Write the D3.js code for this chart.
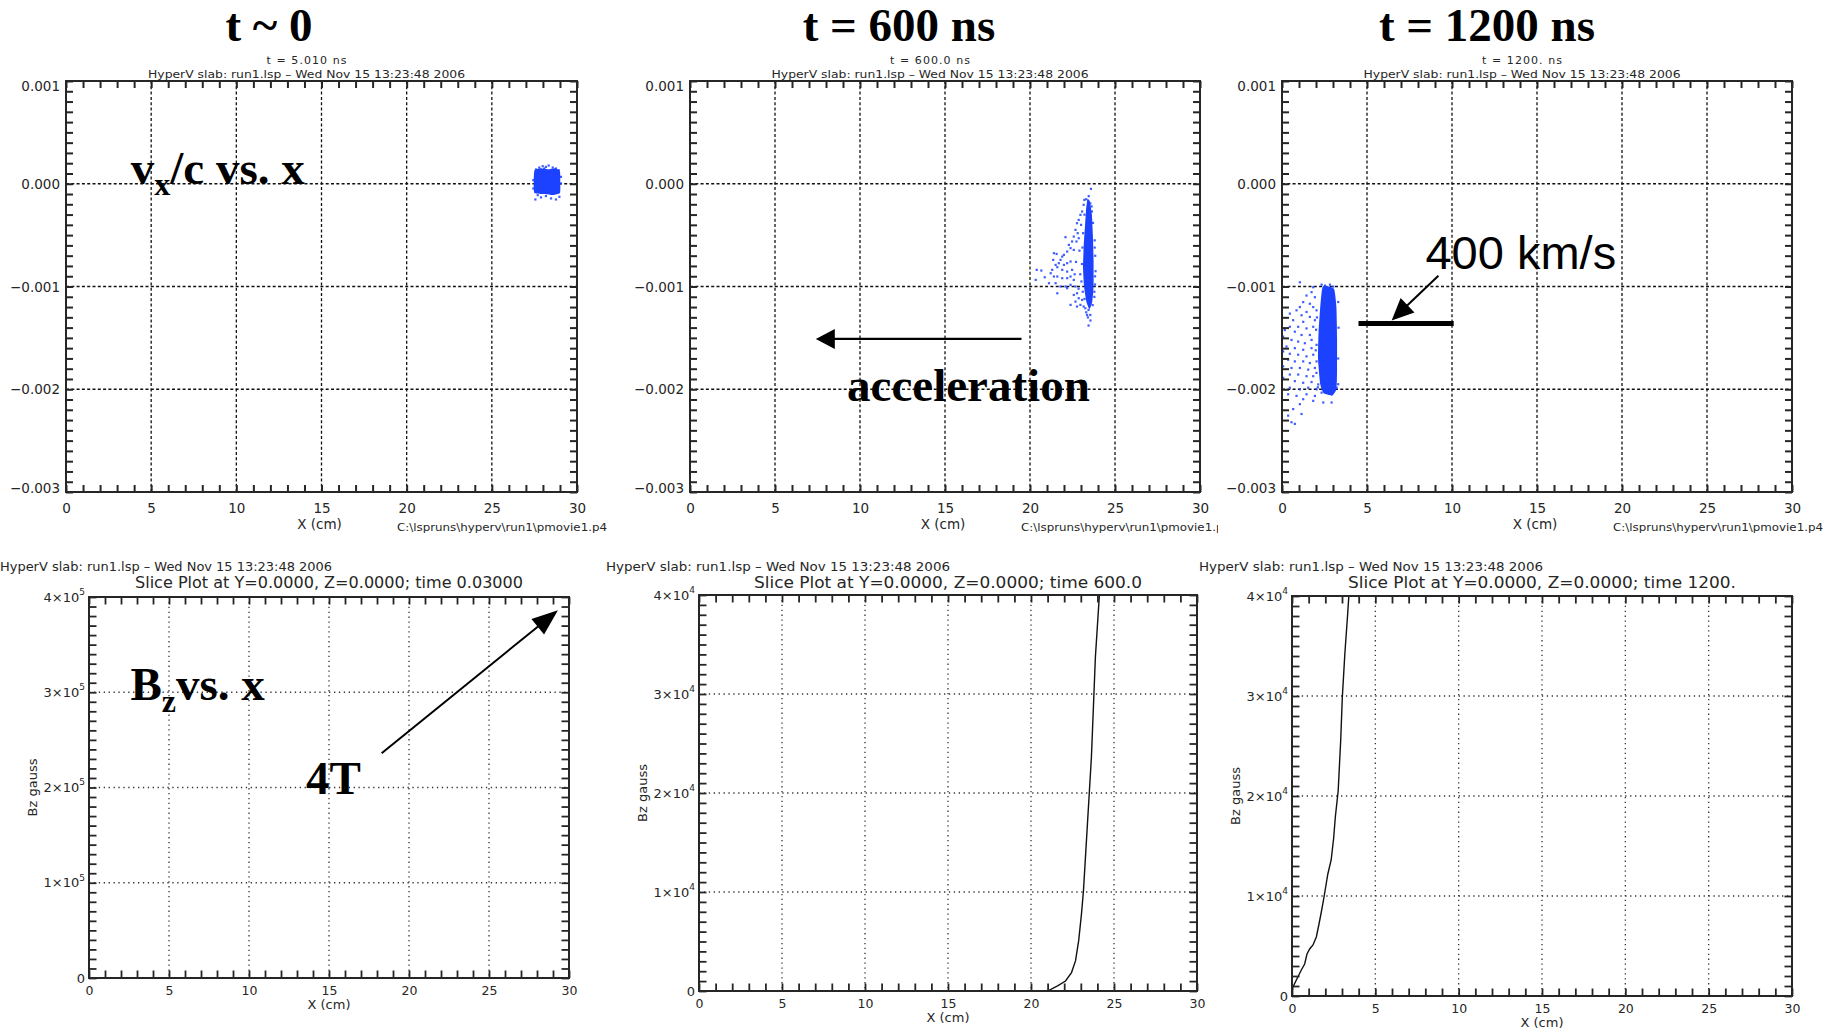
<!DOCTYPE html>
<html>
<head>
<meta charset="utf-8">
<script src="https://cdn.jsdelivr.net/npm/d3@7"></script>
<style>
  html, body { margin: 0; padding: 0; background: #fff; }
  svg { display: block; }
</style>
</head>
<body>
<svg id="fig" width="1834" height="1032"></svg>
<script>
// ------------------------------------------------------------------
// Data: particle phase space (vx/c vs x) and Bz slices at three times
// x in cm, velocities in units of 1e-3 c, Bz in kG (1e3 gauss)
// ------------------------------------------------------------------
const panelTitles = ["t ~ 0", "t = 600 ns", "t = 1200 ns"];
const runTimes = ["t = 5.010 ns", "t = 600.0 ns", "t = 1200. ns"];
const runStamp = "HyperV slab: run1.lsp \u2013 Wed Nov 15 13:23:48 2006";
const runPath = "C:\\lspruns\\hyperv\\run1\\pmovie1.p4";
const sliceTitles = [
  "Slice Plot at Y=0.0000, Z=0.0000; time 0.03000",
  "Slice Plot at Y=0.0000, Z=0.0000; time 600.0",
  "Slice Plot at Y=0.0000, Z=0.0000; time 1200."
];

const xTicks = [0, 5, 10, 15, 20, 25, 30];
const xGrid = [5, 10, 15, 20, 25];
const vTicks = [1, 0, -1, -2, -3];                 // x 1e-3
const vTickLabels = ["0.001", "0.000", "\u22120.001", "\u22120.002", "\u22120.003"];
const vGrid = [0, -1, -2];
const bzTicks = [0, 1, 2, 3, 4];
const bzExponents = ["5", "4", "4"];               // 10^n per Bz panel
const bzGrid = [1, 2, 3];

// dense cores of the particle bunches (outline, cm / 1e-3 c)
const core0 = [[27.50, 0.13], [27.85, 0.15], [28.30, 0.14], [28.70, 0.15], [29.00, 0.12],
               [29.02, 0.00], [29.00, -0.09], [28.60, -0.11], [28.10, -0.10], [27.50, -0.09], [27.46, 0.02]];
const core600 = [[23.38, -0.15], [23.52, -0.17], [23.64, -0.30], [23.70, -0.50], [23.74, -0.75],
                 [23.74, -1.00], [23.66, -1.15], [23.50, -1.22], [23.32, -1.15], [23.18, -1.00],
                 [23.12, -0.82], [23.16, -0.60], [23.24, -0.40], [23.30, -0.25]];
const core1200 = [[2.40, -1.00], [3.05, -1.02], [3.20, -1.20], [3.24, -1.50], [3.24, -1.80],
                  [3.20, -2.00], [2.95, -2.06], [2.45, -2.04], [2.25, -1.95], [2.12, -1.70],
                  [2.15, -1.45], [2.25, -1.20]];

// individual particles around the cores (cm / 1e-3 c)
const pts0 = [[27.59, 0.140], [27.78, 0.159], [27.98, 0.172], [28.17, 0.165], [28.33, 0.178],
              [28.57, 0.159], [28.76, 0.149], [28.92, 0.133], [27.69, -0.110], [27.88, -0.132],
              [28.17, -0.119], [28.47, -0.142], [28.76, -0.152], [28.96, -0.126], [27.55, -0.152],
              [28.08, 0.149], [27.43, 0.036], [29.05, 0.004], [27.43, -0.045], [29.05, 0.068]];
const pts600 = [[23.58, -0.049], [23.19, -0.156], [23.44, -0.188], [23.54, -0.190], [23.15, -0.204],
                [23.35, -0.253], [23.06, -0.269], [23.64, -0.269], [22.96, -0.302], [22.86, -0.351],
                [22.76, -0.383], [23.00, -0.399], [22.67, -0.448], [22.80, -0.480], [22.57, -0.513],
                [22.86, -0.529], [22.47, -0.561], [22.73, -0.561], [22.08, -0.519], [22.28, -0.594],
                [22.38, -0.626], [22.57, -0.643], [22.18, -0.659], [21.99, -0.691], [21.89, -0.708],
                [21.40, -0.675], [21.56, -0.682], [21.79, -0.740], [21.36, -0.740], [21.69, -0.772],
                [21.99, -0.789], [22.18, -0.772], [22.38, -0.756], [21.50, -0.789], [21.60, -0.811],
                [21.30, -0.837], [21.89, -0.837], [22.18, -0.854], [22.47, -0.837], [20.39, -0.837],
                [20.66, -0.844], [20.86, -0.909], [20.33, -0.935], [21.21, -0.870], [21.40, -0.902],
                [21.60, -0.902], [21.89, -0.918], [22.18, -0.918], [22.38, -0.902], [22.57, -0.935],
                [21.11, -0.967], [21.50, -0.967], [21.79, -0.999], [22.08, -0.999], [22.38, -0.983],
                [22.67, -0.999], [21.60, -1.065], [22.18, -1.016], [22.57, -1.081], [22.76, -1.065],
                [22.86, -1.113], [23.06, -1.130], [22.38, -1.178], [22.67, -1.146], [22.96, -1.178],
                [23.15, -1.194], [23.25, -1.211], [23.44, -1.227], [22.76, -1.194], [23.35, -1.276],
                [23.54, -1.276], [23.44, -1.379], [22.90, -0.650], [22.95, -0.880], [22.70, -0.760],
                [22.62, -0.880], [22.85, -1.020], [23.80, -0.620], [23.82, -0.900], [23.78, -1.050],
                [23.30, -0.150], [23.45, -0.120], [23.62, -0.220], [23.20, -0.300], [23.70, -0.380],
                [23.12, -0.480], [23.80, -0.550], [23.08, -0.620], [23.83, -0.700], [23.05, -0.780],
                [23.85, -0.850], [23.02, -0.950], [23.82, -0.980], [23.10, -1.050], [23.78, -1.100],
                [23.20, -1.120], [23.68, -1.180], [23.40, -1.300], [23.55, -1.330], [23.30, -1.250]];
const pts1200 = [[1.044, -0.958], [1.831, -1.006], [2.323, -0.981], [2.519, -0.990], [2.814, -0.981],
                 [3.011, -1.000], [1.733, -1.054], [1.437, -1.087], [1.929, -1.103], [1.241, -1.151],
                 [1.634, -1.167], [1.044, -1.199], [1.831, -1.199], [0.847, -1.231], [1.437, -1.247],
                 [2.027, -1.231], [0.454, -1.263], [1.143, -1.279], [1.634, -1.295], [0.651, -1.327],
                 [1.241, -1.343], [1.929, -1.327], [0.454, -1.391], [0.946, -1.391], [1.437, -1.407],
                 [1.831, -1.391], [0.159, -1.423], [0.749, -1.439], [1.143, -1.471], [1.634, -1.471],
                 [0.061, -1.487], [0.553, -1.519], [0.946, -1.535], [1.339, -1.551], [1.733, -1.519],
                 [0.258, -1.583], [0.749, -1.599], [1.241, -1.615], [1.733, -1.599], [2.027, -1.567],
                 [0.061, -1.631], [0.454, -1.654], [0.946, -1.663], [1.437, -1.679], [1.831, -1.663],
                 [0.356, -1.712], [0.749, -1.728], [1.241, -1.728], [1.634, -1.744], [2.027, -1.728],
                 [0.061, -1.776], [0.553, -1.792], [1.044, -1.792], [1.536, -1.808], [1.929, -1.792],
                 [0.454, -1.856], [0.946, -1.856], [1.437, -1.872], [1.831, -1.872], [0.061, -1.888],
                 [0.749, -1.920], [1.241, -1.936], [1.733, -1.929], [2.126, -1.952], [0.454, -1.984],
                 [1.044, -2.000], [1.536, -1.984], [2.027, -2.000], [2.716, -2.000], [3.207, -1.984],
                 [0.356, -2.048], [0.847, -2.064], [1.437, -2.048], [1.929, -2.064], [2.323, -2.032],
                 [2.913, -2.048], [1.241, -2.096], [1.831, -2.112], [1.044, -2.144], [2.421, -2.128],
                 [2.913, -2.128], [0.651, -2.192], [0.356, -2.256], [1.143, -2.240], [0.553, -2.320],
                 [0.749, -2.336], [2.050, -1.300], [2.000, -1.420], [1.980, -1.620], [2.020, -1.840],
                 [2.100, -1.980], [3.300, -1.150], [3.320, -1.400], [3.300, -1.700], [3.300, -1.950]];

// Bz slices (cm / kG); the t ~ 0 slice has no trace inside its window
const bz0 = [];
const bz600 = [[20.40, 0], [21.00, 0], [21.60, 0.51], [22.08, 1.01], [22.44, 1.86], [22.68, 3.04],
               [22.87, 5.06], [23.04, 7.76], [23.16, 10.13], [23.28, 13.50], [23.40, 16.88],
               [23.52, 20.25], [23.64, 23.63], [23.76, 28.69], [23.88, 33.76], [24.12, 40.0]];
const bz1200 = [[0.02, 0.6], [0.06, 0.9], [0.26, 1.6], [0.56, 2.6], [0.76, 3.2], [0.90, 4.2],
                [1.06, 4.7], [1.26, 5.1], [1.46, 5.9], [1.62, 7.2], [1.76, 8.4], [1.90, 9.7],
                [2.02, 10.9], [2.15, 12.2], [2.35, 13.6], [2.50, 15.8], [2.60, 17.9], [2.77, 20.5],
                [2.92, 25.5], [3.02, 29.9], [3.17, 34.2], [3.34, 38.2], [3.41, 40.0]];

const cores = [core0, core600, core1200];
const particles = [pts0, pts600, pts1200];
const bzSlices = [bz0, bz600, bz1200];

// ------------------------------------------------------------------
// Layout and styles
// ------------------------------------------------------------------
const INK = "#262626";
const BLUE = "#1c42ff";
const LABEL_FONT = "'DejaVu Sans', sans-serif";
const SERIF = "'Liberation Serif', 'Times New Roman', serif";
const SANS = "'Liberation Sans', Arial, sans-serif";

const topGeom = [
  { x0: 66, x1: 577, titleX: 269 },
  { x0: 690, x1: 1200, titleX: 899 },
  { x0: 1282, x1: 1792, titleX: 1487 }
];
const TOP_Y0 = 81, TOP_Y1 = 492;
const botGeom = [
  { x0: 89, x1: 569, y0: 597, y1: 978, bzMax: 4e5, stampX: 0, stampW: 332 },
  { x0: 699, x1: 1197, y0: 595, y1: 991, bzMax: 4e4, stampX: 606, stampW: 344 },
  { x0: 1292, x1: 1792, y0: 596, y1: 996, bzMax: 4e4, stampX: 1199, stampW: 344 }
];

const svg = d3.select("#fig");
const defs = svg.append("defs");

function inwardTicks(g, axis, translate, values, len, width) {
  const a = g.append("g").attr("transform", translate)
    .call(axis.tickValues(values).tickSize(-len).tickSizeOuter(0).tickFormat(""));
  a.select(".domain").remove();
  a.selectAll(".tick line").attr("stroke", INK).attr("stroke-width", width);
  return a;
}

function styleLabels(a, size) {
  a.select(".domain").remove();
  a.attr("font-family", LABEL_FONT).attr("font-size", size);
  a.selectAll(".tick text").attr("fill", INK);
  return a;
}

function arrow(g, from, to, headLen, headHalf, width) {
  const dx = to[0] - from[0], dy = to[1] - from[1];
  const L = Math.hypot(dx, dy), ux = dx / L, uy = dy / L;
  const bx = to[0] - ux * headLen, by = to[1] - uy * headLen;
  g.append("line").attr("x1", from[0]).attr("y1", from[1]).attr("x2", bx + ux * 2).attr("y2", by + uy * 2)
    .attr("stroke", "#000").attr("stroke-width", width);
  g.append("path")
    .attr("d", `M${to[0]},${to[1]}L${bx - uy * headHalf},${by + ux * headHalf}L${bx + uy * headHalf},${by - ux * headHalf}Z`)
    .attr("fill", "#000");
}

// ------------------------------------------------------------------
// Top row: vx/c vs x
// ------------------------------------------------------------------
topGeom.forEach((G, i) => {
  const x = d3.scaleLinear().domain([0, 30]).range([G.x0, G.x1]);
  const y = d3.scaleLinear().domain([-3, 1]).range([TOP_Y1, TOP_Y0]);
  const g = svg.append("g");
  const cx = (G.x0 + G.x1) / 2;

  // big slide title
  g.append("text").attr("x", G.titleX).attr("y", 41).attr("text-anchor", "middle")
    .attr("font-family", SERIF).attr("font-weight", "bold").attr("font-size", 47)
    .text(panelTitles[i]);

  // run header
  g.append("text").attr("x", cx - 15).attr("y", 64).attr("text-anchor", "middle")
    .attr("font-family", LABEL_FONT).attr("font-size", 11).attr("fill", INK)
    .attr("textLength", 80).attr("lengthAdjust", "spacing").text(runTimes[i]);
  g.append("text").attr("x", cx - 15).attr("y", 78).attr("text-anchor", "middle")
    .attr("font-family", LABEL_FONT).attr("font-size", 11).attr("fill", INK)
    .attr("textLength", 317).attr("lengthAdjust", "spacingAndGlyphs").text(runStamp);

  // dotted grid
  g.append("g").selectAll("line").data(xGrid).join("line")
    .attr("x1", d => x(d)).attr("x2", d => x(d)).attr("y1", TOP_Y0).attr("y2", TOP_Y1)
    .attr("stroke", "#111").attr("stroke-width", 1.3).attr("stroke-dasharray", "3,2.3");
  g.append("g").selectAll("line").data(vGrid).join("line")
    .attr("x1", G.x0).attr("x2", G.x1).attr("y1", d => y(d)).attr("y2", d => y(d))
    .attr("stroke", "#111").attr("stroke-width", 1.3).attr("stroke-dasharray", "3,2.3");

  // particle bunch: dense core plus individual particles
  g.append("path").datum(cores[i])
    .attr("d", d3.line().x(d => x(d[0])).y(d => y(d[1])).curve(d3.curveCardinalClosed.tension(0.5)))
    .attr("fill", BLUE);
  g.append("g").selectAll("rect").data(particles[i]).join("rect")
    .attr("x", d => x(d[0]) - 1).attr("y", d => y(d[1]) - 1)
    .attr("width", 2.2).attr("height", 2.2).attr("fill", BLUE).attr("opacity", 0.85);

  // frame with minor ticks on all sides
  g.append("rect").attr("x", G.x0).attr("y", TOP_Y0).attr("width", G.x1 - G.x0).attr("height", TOP_Y1 - TOP_Y0)
    .attr("fill", "none").attr("stroke", INK).attr("stroke-width", 2);
  const xMinor = d3.range(0, 31);
  const vMinor = d3.range(-30, 11).map(k => k / 10);
  inwardTicks(g, d3.axisBottom(x), `translate(0,${TOP_Y1})`, xMinor, 7, 2);
  inwardTicks(g, d3.axisTop(x), `translate(0,${TOP_Y0})`, xMinor, 7, 2);
  inwardTicks(g, d3.axisLeft(y), `translate(${G.x0},0)`, vMinor, 7, 2);
  inwardTicks(g, d3.axisRight(y), `translate(${G.x1},0)`, vMinor, 7, 2);

  // tick labels
  const yl = styleLabels(g.append("g").attr("transform", `translate(${G.x0 - 6},0)`)
    .call(d3.axisLeft(y).tickValues(vTicks).tickSize(0).tickPadding(0).tickFormat((d, k) => vTickLabels[k])), 13.5);
  yl.selectAll(".tick text").attr("dy", d => d === 1 ? "0.72em" : d === -3 ? "0.05em" : "0.35em");
  styleLabels(g.append("g").attr("transform", `translate(0,${TOP_Y1})`)
    .call(d3.axisBottom(x).tickValues(xTicks).tickSize(0).tickPadding(11).tickFormat(d3.format("d"))), 13.5);

  g.append("text").attr("x", cx - 2).attr("y", 529).attr("text-anchor", "middle")
    .attr("font-family", LABEL_FONT).attr("font-size", 13.5).attr("fill", INK).text("X (cm)");

  const clipId = "pathclip" + i;
  defs.append("clipPath").attr("id", clipId).append("rect")
    .attr("x", 0).attr("y", 0).attr("width", i === 1 ? 1218 : 1834).attr("height", 1032);
  g.append("text").attr("x", G.x0 + 331).attr("y", 531).attr("clip-path", `url(#${clipId})`)
    .attr("font-family", LABEL_FONT).attr("font-size", 10.5).attr("fill", INK)
    .attr("textLength", 210).attr("lengthAdjust", "spacingAndGlyphs").text(runPath);

  // annotations
  const ann = g.append("g");
  if (i === 0) {
    const t = ann.append("text").attr("x", x(3.8)).attr("y", y(0))
      .attr("font-family", SERIF).attr("font-weight", "bold").attr("font-size", 47);
    t.append("tspan").text("v");
    t.append("tspan").attr("font-size", 32).attr("dy", 11).text("x");
    t.append("tspan").attr("dy", -11).text("/c vs. x");
  }
  if (i === 1) {
    arrow(ann, [x(19.5), y(-1.51)], [x(7.4), y(-1.51)], 19, 10, 2.2);
    ann.append("text").attr("x", x(9.24)).attr("y", y(-2.114))
      .attr("font-family", SERIF).attr("font-weight", "bold").attr("font-size", 47)
      .text("acceleration");
  }
  if (i === 2) {
    ann.append("line").attr("x1", x(4.5)).attr("x2", x(10.1)).attr("y1", y(-1.36)).attr("y2", y(-1.36))
      .attr("stroke", "#000").attr("stroke-width", 5);
    arrow(ann, [x(9.2), y(-0.895)], [x(6.45), y(-1.33)], 22, 10, 2);
    ann.append("text").attr("x", x(8.44)).attr("y", y(-0.826))
      .attr("font-family", SANS).attr("font-size", 47).text("400 km/s");
  }
});

// ------------------------------------------------------------------
// Bottom row: Bz vs x
// ------------------------------------------------------------------
botGeom.forEach((G, i) => {
  const x = d3.scaleLinear().domain([0, 30]).range([G.x0, G.x1]);
  const unit = G.bzMax / 4;                     // gauss per major tick
  const y = d3.scaleLinear().domain([0, G.bzMax]).range([G.y1, G.y0]);
  const g = svg.append("g");
  const cx = (G.x0 + G.x1) / 2;

  g.append("text").attr("x", G.stampX).attr("y", 571)
    .attr("font-family", LABEL_FONT).attr("font-size", 12).attr("fill", INK)
    .attr("textLength", G.stampW).attr("lengthAdjust", "spacingAndGlyphs").text(runStamp);
  g.append("text").attr("x", cx).attr("y", 588).attr("text-anchor", "middle")
    .attr("font-family", LABEL_FONT).attr("font-size", 15).attr("fill", INK)
    .attr("textLength", 388).attr("lengthAdjust", "spacingAndGlyphs").text(sliceTitles[i]);

  // dotted grid
  g.append("g").selectAll("line").data(xGrid).join("line")
    .attr("x1", d => x(d)).attr("x2", d => x(d)).attr("y1", G.y0).attr("y2", G.y1)
    .attr("stroke", "#333").attr("stroke-width", 1.3).attr("stroke-dasharray", "1.3,3.6");
  g.append("g").selectAll("line").data(bzGrid).join("line")
    .attr("x1", G.x0).attr("x2", G.x1).attr("y1", d => y(d * unit)).attr("y2", d => y(d * unit))
    .attr("stroke", "#333").attr("stroke-width", 1.3).attr("stroke-dasharray", "1.3,3.6");

  // field profile
  const clipId = "bzclip" + i;
  defs.append("clipPath").attr("id", clipId).append("rect")
    .attr("x", G.x0).attr("y", G.y0).attr("width", G.x1 - G.x0).attr("height", G.y1 - G.y0);
  g.append("path").datum(bzSlices[i]).attr("clip-path", `url(#${clipId})`)
    .attr("d", d3.line().x(d => x(d[0])).y(d => y(d[1] * 1e3)))
    .attr("fill", "none").attr("stroke", "#111").attr("stroke-width", 1.4);

  // frame and ticks
  g.append("rect").attr("x", G.x0).attr("y", G.y0).attr("width", G.x1 - G.x0).attr("height", G.y1 - G.y0)
    .attr("fill", "none").attr("stroke", INK).attr("stroke-width", 2);
  const xMinor = d3.range(0, 31);
  const yMinor = d3.range(0, 41).map(k => k * unit / 10);
  inwardTicks(g, d3.axisBottom(x), `translate(0,${G.y1})`, xMinor, 7.5, 1.8);
  inwardTicks(g, d3.axisTop(x), `translate(0,${G.y0})`, xMinor, 7.5, 1.8);
  inwardTicks(g, d3.axisLeft(y), `translate(${G.x0},0)`, yMinor, 7.5, 1.8);
  inwardTicks(g, d3.axisRight(y), `translate(${G.x1},0)`, yMinor, 7.5, 1.8);

  // y labels with powers of ten
  const yl = styleLabels(g.append("g").attr("transform", `translate(${G.x0 - 4},0)`)
    .call(d3.axisLeft(y).tickValues(bzTicks.map(k => k * unit)).tickSize(0).tickPadding(0).tickFormat("")), 13);
  yl.selectAll(".tick text").each(function (d, k) {
    const t = d3.select(this).attr("dy", "0.32em");
    if (bzTicks[k] === 0) { t.text("0"); return; }
    t.append("tspan").text(bzTicks[k] + "\u00d710");
    t.append("tspan").attr("font-size", 9).attr("dy", "-0.75em").text(bzExponents[i]);
  });
  styleLabels(g.append("g").attr("transform", `translate(0,${G.y1})`)
    .call(d3.axisBottom(x).tickValues(xTicks).tickSize(0).tickPadding(8).tickFormat(d3.format("d"))), 12.5);

  g.append("text").attr("x", cx).attr("y", G.y1 + 31).attr("text-anchor", "middle")
    .attr("font-family", LABEL_FONT).attr("font-size", 13).attr("fill", INK).text("X (cm)");
  g.append("text").attr("transform", `translate(${G.x0 - 52},${(G.y0 + G.y1) / 2}) rotate(-90)`)
    .attr("text-anchor", "middle").attr("font-family", LABEL_FONT).attr("font-size", 13).attr("fill", INK)
    .text("Bz gauss");

  if (i === 0) {
    const t = g.append("text").attr("x", x(2.59)).attr("y", y(2.92e5))
      .attr("font-family", SERIF).attr("font-weight", "bold").attr("font-size", 47);
    t.append("tspan").text("B");
    t.append("tspan").attr("font-size", 32).attr("dy", 12).text("z");
    t.append("tspan").attr("dy", -12).text("vs. x");
    g.append("text").attr("x", x(13.56)).attr("y", y(1.93e5))
      .attr("font-family", SERIF).attr("font-weight", "bold").attr("font-size", 47).text("4T");
    arrow(g, [x(18.29), y(2.36e5)], [x(29.31), y(3.86e5)], 26, 10, 2);
  }
});
</script>
</body>
</html>
